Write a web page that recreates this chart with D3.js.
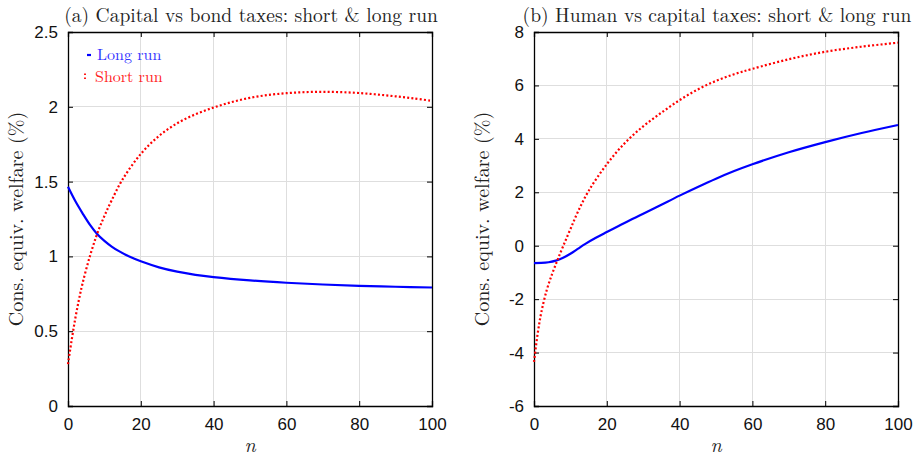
<!DOCTYPE html>
<html><head><meta charset="utf-8">
<script src="https://cdn.jsdelivr.net/npm/d3@7"></script>
<style>body{margin:0;background:#fff}svg{display:block}</style>
</head><body>
<svg id="chart" width="922" height="459"></svg>
<script>
// ---- data ----
const xTicks = [0, 20, 40, 60, 80, 100];
const yTicksA = [0, 0.5, 1, 1.5, 2, 2.5];
const yTicksB = [-6, -4, -2, 0, 2, 4, 6, 8];

const nLongA  = [0, 2, 4, 6, 8, 10, 12, 14, 17, 20, 25, 30, 35, 40, 50, 60, 70, 80, 90, 100];
const longA   = [1.465, 1.37, 1.288, 1.212, 1.15, 1.104, 1.066, 1.035, 0.997, 0.967, 0.927, 0.898, 0.877, 0.862, 0.84, 0.824, 0.812, 0.803, 0.797, 0.792];
const nShortA = [0, 1, 2, 3, 4, 6, 8, 10, 12, 15, 20, 25, 30, 35, 40, 45, 50, 55, 60, 65, 70, 75, 80, 85, 90, 95, 100];
const shortA  = [0.28, 0.44, 0.585, 0.71, 0.82, 1.0, 1.15, 1.27, 1.375, 1.515, 1.685, 1.805, 1.89, 1.95, 1.995, 2.032, 2.06, 2.079, 2.091, 2.098, 2.1, 2.098, 2.092, 2.082, 2.07, 2.056, 2.04];

const nLongB  = [0, 2, 4, 6, 8, 10, 12, 14, 17, 20, 25, 30, 35, 40, 45, 50, 55, 60, 70, 80, 90, 100];
const longB   = [-0.65, -0.645, -0.62, -0.56, -0.45, -0.3, -0.12, 0.06, 0.295, 0.51, 0.86, 1.195, 1.535, 1.875, 2.2, 2.51, 2.795, 3.05, 3.5, 3.88, 4.22, 4.52];
const nShortB = [0, 1, 2, 3.5, 5, 6.5, 8, 10, 12, 15, 20, 25, 30, 35, 40, 45, 50, 55, 60, 70, 80, 90, 100];
const shortB  = [-4.35, -3.3, -2.5, -1.66, -1.05, -0.52, -0.02, 0.62, 1.25, 2.05, 3.05, 3.85, 4.47, 4.98, 5.45, 5.85, 6.17, 6.42, 6.62, 6.98, 7.26, 7.45, 7.6];

const titles = ["(a) Capital vs bond taxes: short & long run", "(b) Human vs capital taxes: short & long run"];
const yLabel = "Cons. equiv. welfare (%)";
const legendLabels = ["Long run", "Short run"];

// ---- drawing ----
const svg = d3.select("#chart");
const blue = "#0000ff", red = "#ff0000";
const serif = "'Latin Modern Roman','CMU Serif','Liberation Serif','DejaVu Serif',serif";
const sans = "'Liberation Sans',Arial,Helvetica,sans-serif";

const panels = [
  {x0: 68, x1: 432, yDom: [0, 2.5], yTicks: yTicksA, yFmt: d => String(d),
   long: nLongA.map((n,i)=>[n,longA[i]]), short: nShortA.map((n,i)=>[n,shortA[i]]), title: titles[0], legend: true},
  {x0: 534, x1: 898, yDom: [-6, 8], yTicks: yTicksB, yFmt: d => String(d),
   long: nLongB.map((n,i)=>[n,longB[i]]), short: nShortB.map((n,i)=>[n,shortB[i]]), title: titles[1], legend: false}
];
const plotTop = 32, plotBottom = 406;

panels.forEach(p => {
  const x = d3.scaleLinear().domain([0, 100]).range([p.x0, p.x1]);
  const y = d3.scaleLinear().domain(p.yDom).range([plotBottom, plotTop]);
  const g = svg.append("g");

  // grid
  g.append("g").selectAll("line").data(xTicks.slice(1, -1)).join("line")
    .attr("x1", d => x(d)).attr("x2", d => x(d)).attr("y1", plotTop).attr("y2", plotBottom)
    .attr("stroke", "#dedede").attr("stroke-width", 1).attr("shape-rendering", "crispEdges");
  g.append("g").selectAll("line").data(p.yTicks.slice(1, -1)).join("line")
    .attr("y1", d => y(d)).attr("y2", d => y(d)).attr("x1", p.x0).attr("x2", p.x1)
    .attr("stroke", "#dedede").attr("stroke-width", 1).attr("shape-rendering", "crispEdges");

  // axes (ticks inward, mirrored)
  const tl = 5;
  const axB = g.append("g").attr("transform", `translate(0,${plotBottom})`)
    .call(d3.axisBottom(x).tickValues(xTicks).tickSize(-tl).tickPadding(12).tickFormat(d3.format("d")));
  const axT = g.append("g").attr("transform", `translate(0,${plotTop})`)
    .call(d3.axisTop(x).tickValues(xTicks).tickSize(-tl).tickFormat(""));
  const axL = g.append("g").attr("transform", `translate(${p.x0},0)`)
    .call(d3.axisLeft(y).tickValues(p.yTicks).tickSize(-tl).tickPadding(10).tickFormat(p.yFmt));
  const axR = g.append("g").attr("transform", `translate(${p.x1},0)`)
    .call(d3.axisRight(y).tickValues(p.yTicks).tickSize(-tl).tickFormat(""));
  [axB, axT, axL, axR].forEach(a => {
    a.select(".domain").attr("stroke", "#000").attr("stroke-width", 1.3);
    a.selectAll(".tick line").attr("stroke", "#000").attr("stroke-width", 1);
    a.selectAll("text").attr("font-family", sans).attr("font-size", 17).attr("fill", "#111");
  });

  // lines
  const line = d3.line().x(d => x(d[0])).y(d => y(d[1])).curve(d3.curveCatmullRom.alpha(0.5));
  g.append("path").datum(p.long).attr("d", line).attr("fill", "none")
    .attr("stroke", blue).attr("stroke-width", 2.2);
  g.append("path").datum(p.short).attr("d", line).attr("fill", "none")
    .attr("stroke", red).attr("stroke-width", 2.2).attr("stroke-dasharray", "2,2.2");

  // title
  svg.append("text").attr("x", (p.x0 + p.x1) / 2 + 1).attr("y", 21.5).attr("text-anchor", "middle")
    .attr("font-family", serif).attr("font-size", 19.5).attr("fill", "#222").text(p.title);
  // y label
  svg.append("text").attr("transform", `translate(${p.x0 - 45},${(plotTop + plotBottom) / 2}) rotate(-90)`)
    .attr("text-anchor", "middle").attr("font-family", serif).attr("font-size", 20).attr("fill", "#222").text(yLabel);
  // x label
  svg.append("text").attr("x", (p.x0 + p.x1) / 2).attr("y", 452).attr("text-anchor", "middle")
    .attr("font-family", serif).attr("font-style", "italic").attr("font-size", 20).attr("fill", "#222").text("n");

  if (p.legend) {
    const lg = svg.append("g");
    lg.append("line").attr("x1", 87).attr("x2", 91).attr("y1", 55).attr("y2", 55)
      .attr("stroke", blue).attr("stroke-width", 2.2);
    lg.append("line").attr("x1", 85).attr("x2", 85).attr("y1", 73.5).attr("y2", 79)
      .attr("stroke", red).attr("stroke-width", 1.8).attr("stroke-dasharray", "1.6,2.4");
    lg.append("text").attr("x", 97).attr("y", 60).attr("font-family", serif).attr("font-size", 16)
      .attr("fill", "#3333ff").text(legendLabels[0]);
    lg.append("text").attr("x", 95).attr("y", 82).attr("font-family", serif).attr("font-size", 16)
      .attr("fill", "#ff2222").text(legendLabels[1]);
  }
});
</script>
</body></html>
